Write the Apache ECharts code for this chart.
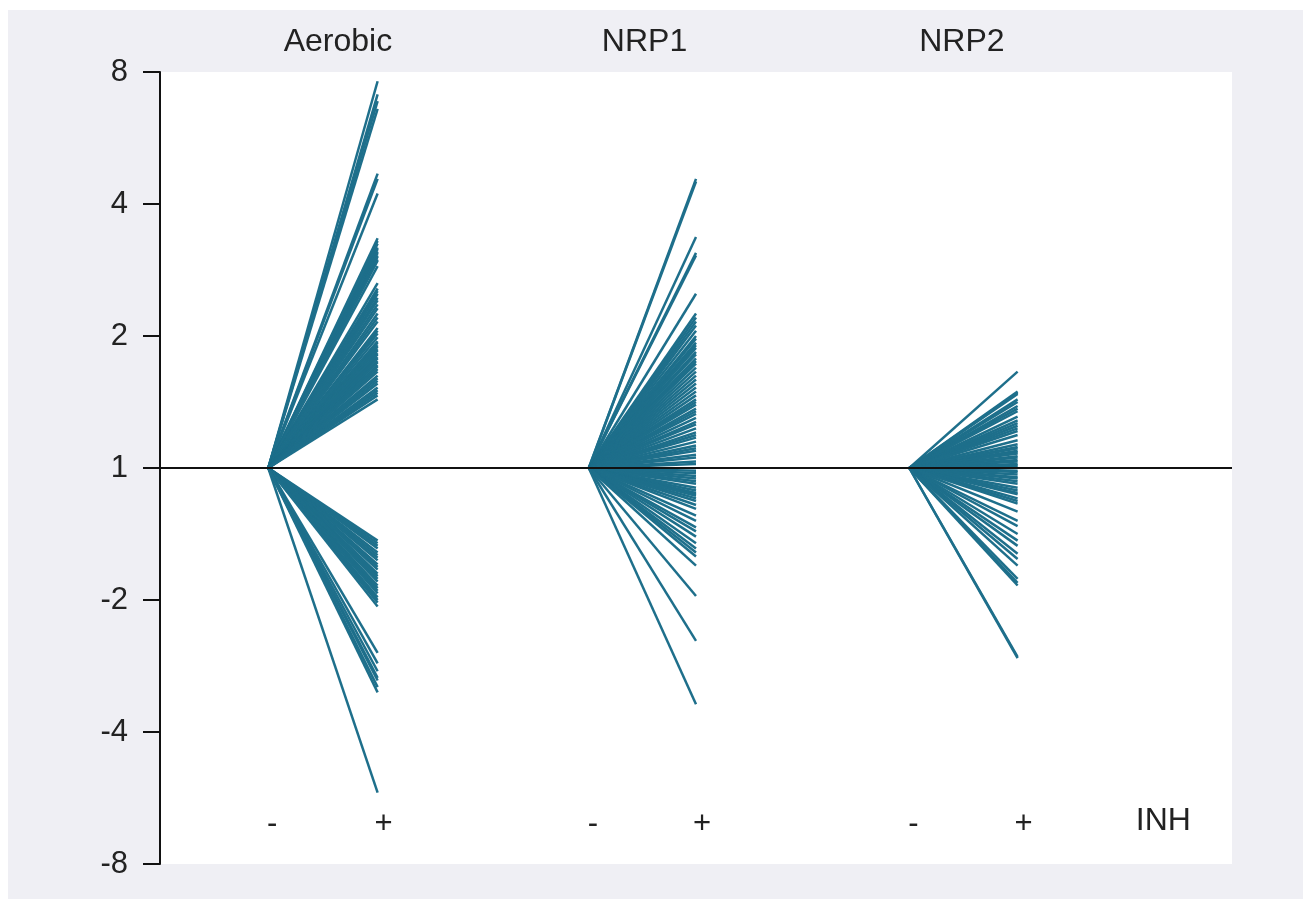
<!DOCTYPE html>
<html>
<head>
<meta charset="utf-8">
<script src="https://cdn.jsdelivr.net/npm/echarts@6/dist/echarts.min.js"></script>
<style>
  html, body { margin: 0; padding: 0; background: #ffffff; }
  #chart { position: absolute; left: 8px; top: 10px; width: 1295px; height: 889px; }
</style>
</head>
<body>
<div id="chart"></div>
<script>
// Conditions and the treatment axis
var groups = ['Aerobic', 'NRP1', 'NRP2'];
var treatmentLabels = ['-', '+'];
var treatmentName = 'INH';

// Fold-change tick labels (signed fold change), at log2 positions -3..3
var tickLabels = ['-8', '-4', '-2', '1', '2', '4', '8'];

// log2 fold change (+INH vs -INH) per gene, one array per condition
var aerobicLog2FC = [
  2.93, 2.83, 2.78, 2.72, 2.23, 2.19, 2.08,
  1.74, 1.72, 1.70, 1.67, 1.66, 1.64, 1.63, 1.61, 1.60, 1.58, 1.57, 1.53,
  1.40, 1.36, 1.34, 1.32, 1.29, 1.27, 1.24, 1.21, 1.17, 1.14, 1.11,
  1.06, 1.04, 1.02, 0.99, 0.96, 0.95, 0.93, 0.92, 0.90, 0.89, 0.87, 0.86,
  0.84, 0.83, 0.81, 0.80, 0.78, 0.77, 0.75, 0.73, 0.70, 0.68, 0.66, 0.64,
  0.61, 0.59, 0.57, 0.55, 0.52,
  -0.55, -0.57, -0.59, -0.61, -0.64, -0.66, -0.68, -0.70, -0.73, -0.75,
  -0.77, -0.80, -0.82, -0.84, -0.86, -0.89, -0.91, -0.93, -0.95, -0.98,
  -1.00, -1.02, -1.05,
  -1.40, -1.48, -1.54, -1.59, -1.61, -1.66, -1.70, -2.46
];
var nrp1Log2FC = [
  2.19, 2.17, 1.75, 1.63, 1.61, 1.32, 1.17, 1.14, 1.11, 1.08, 1.04, 1.00,
  0.98, 0.95, 0.93, 0.91, 0.88, 0.86, 0.83, 0.81, 0.79, 0.76, 0.73, 0.70,
  0.67, 0.64, 0.61, 0.58, 0.55, 0.52, 0.50, 0.48, 0.45, 0.43, 0.41, 0.38,
  0.35, 0.33, 0.30, 0.27, 0.25, 0.23, 0.20, 0.17, 0.15, 0.13, 0.10, 0.08,
  0.05, 0.03,
  -0.02, -0.04, -0.06, -0.08, -0.10, -0.12, -0.15, -0.17, -0.19, -0.20,
  -0.21, -0.23, -0.25, -0.28, -0.31, -0.36, -0.40, -0.45, -0.48, -0.52,
  -0.57, -0.61, -0.64, -0.67, -0.74, -0.97, -1.31, -1.79
];
var nrp2Log2FC = [
  0.73, 0.58, 0.57, 0.56, 0.52, 0.50, 0.47, 0.45, 0.43, 0.39, 0.36, 0.34,
  0.32, 0.30, 0.28, 0.25, 0.21, 0.18, 0.16, 0.15, 0.13, 0.12, 0.11, 0.09,
  0.08, 0.06, 0.05, 0.03, 0.02, 0.01,
  -0.02, -0.03, -0.05, -0.07, -0.08, -0.10, -0.12, -0.15, -0.17, -0.19,
  -0.20, -0.23, -0.25, -0.27, -0.33, -0.40, -0.44, -0.50, -0.55, -0.59,
  -0.65, -0.69, -0.74, -0.84, -0.87, -0.89, -1.43, -1.44
];

var seriesByGroup = [aerobicLog2FC, nrp1Log2FC, nrp2Log2FC];

// Layout on the x scale: "-" and "+" columns of each group, titles, treatment name
var minusX = [0.01, 3.0, 5.99];
var plusX = [1.03, 4.0, 7.0];
var titleX = [0.66, 3.52, 6.48];
var treatmentNameX = 8.36;
var LINE_COLOR = '#1e6f8b';
var FONT = '"Liberation Sans", Arial, Helvetica, sans-serif';

function buildLines(values, x0, x1) {
  return values.map(function (v) {
    return { coords: [[x0, 0], [x1, v]] };
  });
}

var chart = echarts.init(document.getElementById('chart'), null, { renderer: 'canvas' });

var series = seriesByGroup.map(function (vals, i) {
  return {
    type: 'lines',
    coordinateSystem: 'cartesian2d',
    name: groups[i],
    polyline: false,
    silent: true,
    lineStyle: { color: LINE_COLOR, width: 2.5, opacity: 1 },
    data: buildLines(vals, minusX[i], plusX[i]),
    z: 2
  };
});

// Reference line at fold change 1
series.push({
  type: 'line',
  data: [],
  silent: true,
  markLine: {
    silent: true,
    symbol: ['none', 'none'],
    label: { show: false },
    lineStyle: { color: '#111111', width: 2, type: 'solid' },
    data: [{ yAxis: 0 }]
  },
  z: 3
});

chart.setOption({
  backgroundColor: '#efeff4',
  animation: false,
  textStyle: { fontFamily: FONT },
  grid: {
    left: 152, right: 71, top: 62, bottom: 35,
    show: true, backgroundColor: '#ffffff', borderWidth: 0
  },
  xAxis: { type: 'value', min: -1, max: 9, show: false },
  yAxis: {
    type: 'value', min: -3, max: 3, interval: 1,
    axisLine: { show: true, onZero: false, lineStyle: { color: '#111111', width: 2 } },
    axisTick: { show: true, length: 17, lineStyle: { color: '#111111', width: 2 } },
    splitLine: { show: false },
    axisLabel: {
      fontSize: 31, color: '#222222', margin: 32, fontFamily: FONT,
      formatter: function (v) { return tickLabels[Math.round(v) + 3]; }
    }
  },
  series: series
});

// Condition titles and treatment labels
var graphics = [];
var labelY = 814; // pixel row (in the chart box) of the -/+ labels
groups.forEach(function (g, i) {
  var tp = chart.convertToPixel({ gridIndex: 0 }, [titleX[i], 0]);
  graphics.push({
    type: 'text', x: tp[0], y: 32,
    style: { text: g, font: '32px ' + FONT, fill: '#222222', align: 'center', verticalAlign: 'middle' }
  });
  var pm = chart.convertToPixel({ gridIndex: 0 }, [minusX[i], 0]);
  var pp = chart.convertToPixel({ gridIndex: 0 }, [plusX[i], 0]);
  graphics.push({
    type: 'text', x: pm[0] + 4, y: labelY,
    style: { text: treatmentLabels[0], font: '31px ' + FONT, fill: '#222222', align: 'center', verticalAlign: 'middle' }
  });
  graphics.push({
    type: 'text', x: pp[0] + 6, y: labelY,
    style: { text: treatmentLabels[1], font: '31px ' + FONT, fill: '#222222', align: 'center', verticalAlign: 'middle' }
  });
});
var np = chart.convertToPixel({ gridIndex: 0 }, [treatmentNameX, 0]);
graphics.push({
  type: 'text', x: np[0], y: 811,
  style: { text: treatmentName, font: '32px ' + FONT, fill: '#222222', align: 'center', verticalAlign: 'middle' }
});
chart.setOption({ graphic: graphics });
</script>
</body>
</html>
